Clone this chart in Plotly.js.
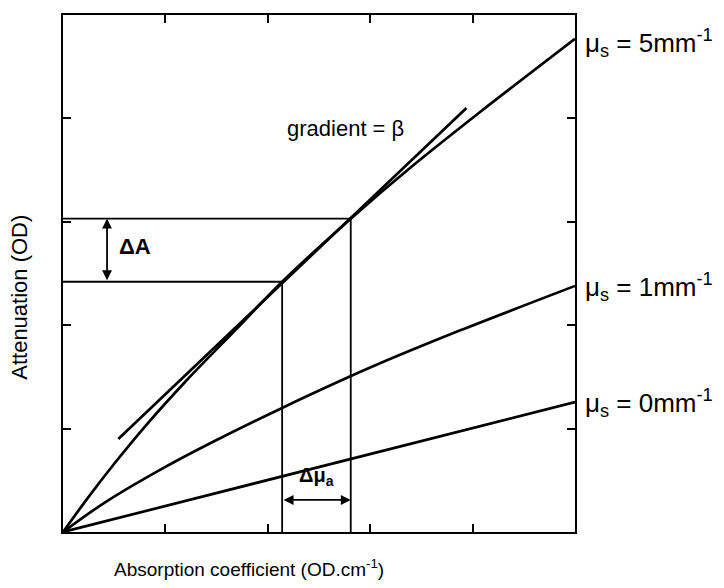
<!DOCTYPE html>
<html>
<head>
<meta charset="utf-8">
<script src="https://cdn.plot.ly/plotly-3.0.1.min.js"></script>
<style>
  html, body { margin: 0; padding: 0; background: #fff; }
  #chart { width: 724px; height: 588px; }
</style>
</head>
<body>
<div id="chart"></div>
<script>
// Absorption coefficient (x) and attenuation (y) for three scattering levels
const muA5 = [0, 0.25, 0.5, 0.8, 1.21, 1.7, 2.14, 2.81, 3.40, 4.07, 5.0];
const att5 = [0, 0.34, 0.66, 1.02, 1.47, 1.97, 2.42, 3.03, 3.53, 4.06, 4.77];

const muA1 = [0, 0.4, 1.0, 1.5, 2.14, 3.0, 3.88, 5.0];
const att1 = [0, 0.28, 0.63, 0.89, 1.20, 1.59, 1.95, 2.38];

const muA0 = [0, 5.0];
const att0 = [0, 1.257];

// Tangent to the 5 mm^-1 curve (gradient = beta)
const tangentX = [0.54, 3.94];
const tangentY = [0.90, 4.10];

// Step in absorption and the matching step in attenuation
const deltaMuA = [2.14, 2.81];
const deltaAtt = [2.42, 3.03];
const arrowMuY = 0.31;   // height of the Δμa arrow
const arrowAttX = 0.43;  // position of the ΔA arrow

const curveLabels = [
  'μ<sub>s</sub> = 5mm<sup>-1</sup>',
  'μ<sub>s</sub> = 1mm<sup>-1</sup>',
  'μ<sub>s</sub> = 0mm<sup>-1</sup>'
];
const labelY = [4.73, 2.37, 1.25];

const lineStyle = { color: '#000', width: 2.7 };
const thin = { color: '#000', width: 1.8 };

const traces = [
  { x: muA5, y: att5, mode: 'lines', line: Object.assign({ shape: 'spline', smoothing: 0.8 }, lineStyle) },
  { x: muA1, y: att1, mode: 'lines', line: Object.assign({ shape: 'spline', smoothing: 0.8 }, lineStyle) },
  { x: muA0, y: att0, mode: 'lines', line: lineStyle },
  { x: tangentX, y: tangentY, mode: 'lines', line: lineStyle },
  // construction lines: from the axes up to the curve
  { x: [0, deltaMuA[0], deltaMuA[0]], y: [deltaAtt[0], deltaAtt[0], 0], mode: 'lines', line: thin },
  { x: [0, deltaMuA[1], deltaMuA[1]], y: [deltaAtt[1], deltaAtt[1], 0], mode: 'lines', line: thin }
];

const font = { family: 'Liberation Sans, Arial, sans-serif', color: '#000' };
function f(size, weight) { return Object.assign({ size: size, weight: weight || 400 }, font); }

const annotations = [
  // ΔA double arrow
  { x: arrowAttX, y: deltaAtt[1], ax: arrowAttX, ay: deltaAtt[0], xref: 'x', yref: 'y', axref: 'x', ayref: 'y',
    text: '', showarrow: true, arrowhead: 2, startarrowhead: 2, arrowside: 'end+start', arrowsize: 1.1, startarrowsize: 1.1, arrowwidth: 1.8, arrowcolor: '#000' },
  { x: arrowAttX + 0.1, y: (deltaAtt[0] + deltaAtt[1]) / 2 + 0.04, xref: 'x', yref: 'y', xanchor: 'left', yanchor: 'middle',
    text: 'ΔA', showarrow: false, font: f(22, 700) },
  // Δμa double arrow
  { x: deltaMuA[1], y: arrowMuY, ax: deltaMuA[0], ay: arrowMuY, xref: 'x', yref: 'y', axref: 'x', ayref: 'y',
    text: '', showarrow: true, arrowhead: 2, startarrowhead: 2, arrowside: 'end+start', arrowsize: 1.1, startarrowsize: 1.1, arrowwidth: 1.8, arrowcolor: '#000' },
  { x: (deltaMuA[0] + deltaMuA[1]) / 2, y: arrowMuY + 0.23, xref: 'x', yref: 'y', xanchor: 'center', yanchor: 'middle',
    text: 'Δμ<sub>a</sub>', showarrow: false, font: f(20, 700) },
  // gradient label
  { x: 2.17, y: 3.9, xref: 'x', yref: 'y', xanchor: 'left', yanchor: 'middle',
    text: 'gradient = β', showarrow: false, font: f(22) },
  // axis titles
  { x: 0.363, y: -0.07, xref: 'paper', yref: 'paper', xanchor: 'center', yanchor: 'middle',
    text: 'Absorption coefficient (OD.cm<sup>-1</sup>)', showarrow: false, font: f(19) },
  { x: -0.084, y: 0.455, xref: 'paper', yref: 'paper', xanchor: 'center', yanchor: 'middle', textangle: -90,
    text: 'Attenuation (OD)', showarrow: false, font: f(22) }
];

curveLabels.forEach(function (t, i) {
  annotations.push({
    x: 1, xref: 'paper', xshift: 8, y: labelY[i], yref: 'y', xanchor: 'left', yanchor: 'middle',
    text: t, showarrow: false, font: f(26)
  });
});

const axisCommon = {
  range: [0, 5],
  tickvals: [1, 2, 3, 4],
  showticklabels: false,
  ticks: 'inside',
  ticklen: 8,
  tickwidth: 2,
  tickcolor: '#000',
  showline: true,
  linecolor: '#000',
  linewidth: 2,
  mirror: 'ticks',
  showgrid: false,
  zeroline: false,
  fixedrange: true
};

const layout = {
  width: 724,
  height: 588,
  margin: { l: 63, r: 149, t: 15, b: 56 },
  paper_bgcolor: '#fff',
  plot_bgcolor: '#fff',
  showlegend: false,
  font: font,
  xaxis: Object.assign({}, axisCommon),
  yaxis: Object.assign({}, axisCommon),
  annotations: annotations
};

Plotly.newPlot('chart', traces, layout, { staticPlot: true, displayModeBar: false });
</script>
</body>
</html>
